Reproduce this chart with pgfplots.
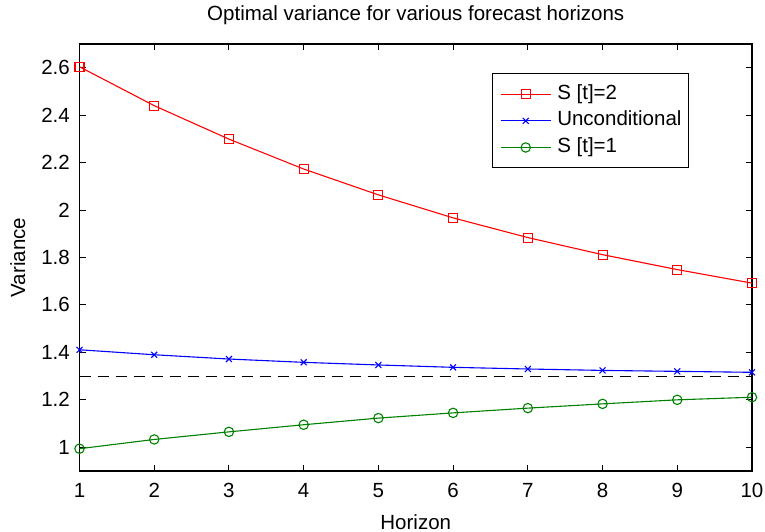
\documentclass[border=0pt]{standalone}
\usepackage{fontspec}
\setmainfont{Liberation Sans}
\usepackage{pgfplots}
\pgfplotsset{compat=1.18}
\definecolor{mgreen}{RGB}{0,128,0}
\newcommand{\ff}{\fontsize{20.5}{24}\selectfont}
\begin{document}
\begin{tikzpicture}[x=1pt,y=1pt]
\useasboundingbox (0,0) rectangle (765,532);
\begin{axis}[
  at={(79.5pt,61pt)}, anchor=south west,
  width=672.5pt, height=427pt, scale only axis,
  xmin=1, xmax=10, ymin=0.9, ymax=2.7,
  xtick={1,2,...,10},
  ytick={1,1.2,1.4,1.6,1.8,2,2.2,2.4,2.6},
  yticklabels={1,1.2,1.4,1.6,1.8,2,2.2,2.4,2.6},
  tick align=inside, major tick length=6pt,
  tick style={black, line width=1pt},
  axis line style={line width=1.5pt},
  /pgf/number format/assume math mode=true,
  tick label style={font=\ff},
  xticklabel style={anchor=north, inner sep=0pt, yshift=-12pt},
  yticklabel style={anchor=east, inner sep=0pt, xshift=-9.5pt},
  title={Optimal variance for various forecast horizons},
  title style={font=\ff, at={(0.5,1)}, anchor=base, yshift=17.3pt, inner sep=0pt},
  xlabel={Horizon},
  xlabel style={font=\ff, at={(0.5,0)}, anchor=base, yshift=-58pt, inner sep=0pt},
  ylabel={Variance},
  ylabel style={font=\ff, at={(axis description cs:-0.081,0.5)}, anchor=base, rotate=0, inner sep=0pt},
  legend style={at={(0.9068,0.9314)}, anchor=north east, font=\ff,
    draw=black, line width=1pt, inner xsep=7.3pt, inner ysep=10.5pt, row sep=6.6pt,
    nodes={inner sep=0pt, text height=15pt, text depth=5pt}},
  legend cell align=left,
  legend image code/.code={\draw[mark repeat=2,mark phase=2] plot coordinates {(0pt,0pt) (25pt,0pt) (50pt,0pt)}; \path (56pt,0pt);},
  every axis plot/.append style={line width=1.1pt},
  clip=false,
]
\addplot[red, mark=square, mark size=4.5pt, mark options={solid, line width=1.1pt}] coordinates {
(1,2.604) (2,2.440) (3,2.299) (4,2.173) (5,2.064) (6,1.967) (7,1.884) (8,1.812) (9,1.749) (10,1.692)};
\addlegendentry{S [t]=2}
\addplot[blue, mark=x, mark size=4.2pt, mark options={solid, line width=1.1pt}] coordinates {
(1,1.411) (2,1.390) (3,1.372) (4,1.358) (5,1.347) (6,1.337) (7,1.330) (8,1.324) (9,1.320) (10,1.316)};
\addlegendentry{Unconditional\hspace{10pt}}
\addplot[mgreen, mark=o, mark size=4.7pt, mark options={solid, line width=1.1pt}] coordinates {
(1,0.994) (2,1.033) (3,1.065) (4,1.095) (5,1.123) (6,1.145) (7,1.165) (8,1.183) (9,1.200) (10,1.211)};
\addlegendentry{S [t]=1}
\addplot[black, line width=1pt, dash pattern=on 11pt off 7pt, forget plot] coordinates {(1,1.3) (10,1.3)};
\end{axis}
\end{tikzpicture}
\end{document}
